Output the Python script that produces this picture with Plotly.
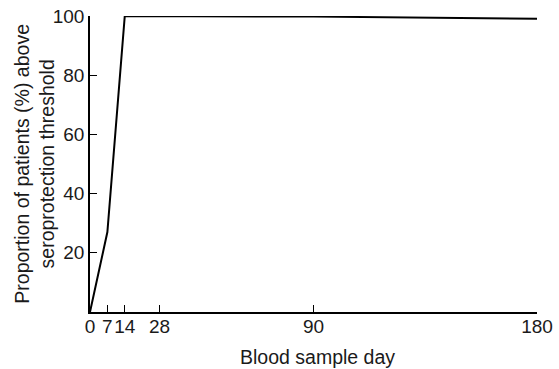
import plotly.graph_objects as go

days = [0, 7, 14, 28, 90, 180]
proportion = [0, 27, 100, 100, 99.8, 99.1]
x_ticks = [0, 7, 14, 28, 90, 180]
y_ticks = [20, 40, 60, 80, 100]

FONT = "Liberation Sans, Arial, sans-serif"

fig = go.Figure()
fig.add_trace(go.Scatter(x=days, y=proportion, mode="lines",
                         line=dict(color="black", width=2), showlegend=False))

fig.update_layout(
    width=559, height=369,
    margin=dict(l=90, r=22, t=16, b=57, autoexpand=False),
    paper_bgcolor="white", plot_bgcolor="white",
    font=dict(family=FONT, size=18, color="#1a1a1a"),
)
fig.update_xaxes(range=[0, 180], tickvals=x_ticks, ticktext=[str(v) for v in x_ticks],
                 ticks="inside", ticklen=7, tickcolor="black", tickwidth=1,
                 showline=True, linecolor="black", linewidth=1.5,
                 showgrid=False, zeroline=False, tickangle=0, automargin=False,
                 ticklabelstandoff=-4,
                 tickfont=dict(size=19))
fig.update_yaxes(range=[0, 100], tickvals=y_ticks, ticktext=[str(v) for v in y_ticks],
                 ticks="inside", ticklen=7, tickcolor="black", tickwidth=1,
                 showline=True, linecolor="black", linewidth=1.5,
                 showgrid=False, zeroline=False, automargin=False,
                 tickfont=dict(size=19))

fig.add_annotation(text="Blood sample day", xref="paper", yref="paper",
                   x=0.508, y=-0.152, xanchor="center", yanchor="middle",
                   showarrow=False, font=dict(size=19.5))
fig.add_annotation(text="Proportion of patients (%) above<br>seroprotection threshold",
                   xref="paper", yref="paper", x=-0.126, y=0.5,
                   xanchor="center", yanchor="middle", textangle=-90,
                   showarrow=False, font=dict(size=19.5))

fig.write_html("out.html", config={"displayModeBar": False},
               post_script="document.body.style.margin='0';")
